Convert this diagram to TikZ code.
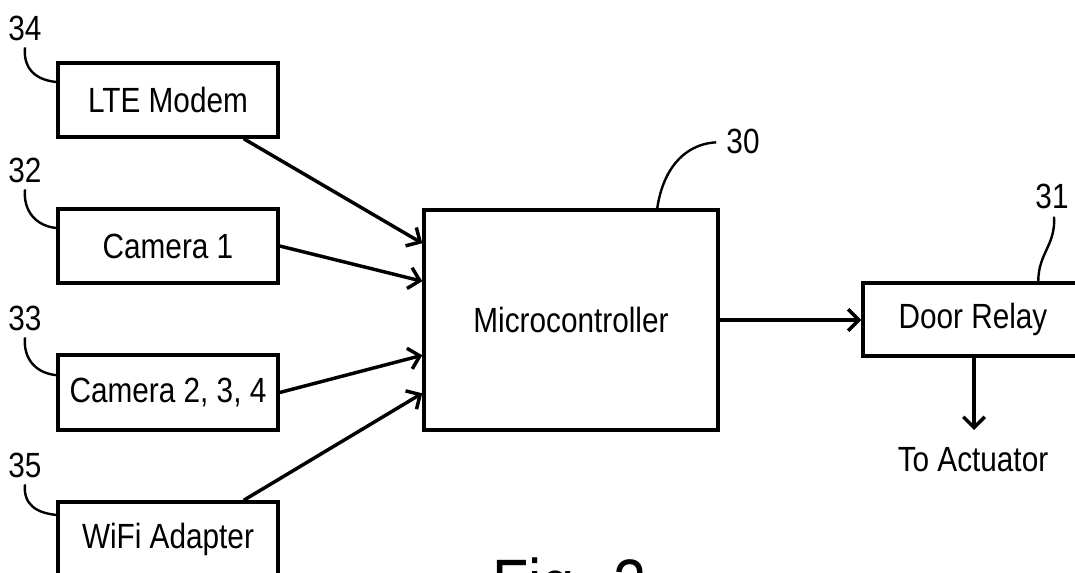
\documentclass[tikz,border=0pt]{standalone}
\usepackage{fontspec}
\setmainfont{Liberation Sans}[FakeStretch=0.85]
\usetikzlibrary{arrows.meta,calc}
\begin{document}
\begin{tikzpicture}[x=0.75pt,y=-0.75pt,
  blk/.style={draw,line width=2.6pt,rectangle,inner sep=0pt,
    font=\fontsize{26.25pt}{30pt}\selectfont},
  lbl/.style={inner sep=0pt,font=\fontsize{26.25pt}{30pt}\selectfont},
  arr/.style={line width=2.6pt,-{Straight Barb[length=8pt,width=16pt,line width=2.6pt]}},
  lead/.style={line width=1.8pt}]
\useasboundingbox (0,0) rectangle (1075,573);
\clip (0,0) rectangle (1075,573);
% blocks
\node[blk,minimum width=165pt,minimum height=55.5pt] (lte) at (168,100) {LTE Modem};
\node[blk,minimum width=165pt,minimum height=55.5pt] (cam1) at (168,246) {Camera 1};
\node[blk,minimum width=165pt,minimum height=56pt] (cam2) at (168,392.5) {Camera 2, 3, 4};
\node[blk,minimum width=165pt,minimum height=55.5pt] (wifi) at (168,539) {WiFi Adapter};
\node[blk,minimum width=220.5pt,minimum height=165pt] (mc) at (571,320) {Microcontroller};
\node[blk,minimum width=165pt,minimum height=54.75pt] (relay) at (973,319.5) {Door Relay};
\node[lbl] (act) at (973,460) {To Actuator};
\coordinate (actin) at (974,430);
\node[lbl,anchor=base west,font=\fontsize{52.5pt}{60pt}\selectfont] (fig) at (492,608) {Fig. 2};
% reference numerals
\node[lbl] (l34) at (25,28) {34};
\node[lbl] (l32) at (25,170) {32};
\node[lbl] (l33) at (25,318) {33};
\node[lbl] (l35) at (25,465) {35};
\node[lbl] (l30) at (743,141) {30};
\node[lbl] (l31) at (1052,196) {31};
% connectors
\draw[arr] ([xshift=-27pt]lte.south east) -- ([yshift=-26.25pt]mc.north west);
\draw[arr] (cam1.east) -- ([yshift=-54.75pt]mc.north west);
\draw[arr] (cam2.east) -- ([yshift=-110.25pt]mc.north west);
\draw[arr] ([xshift=-27pt]wifi.north east) -- ([yshift=-138.75pt]mc.north west);
\draw[arr] (mc.east) -- (mc.east -| relay.west);
\draw[arr] (relay.south -| actin) -- (actin);
% leaders
\draw[lead] ([yshift=-5pt]l34.south) .. controls +(-2,22) and +(-20,-2) .. ([yshift=13.5pt]lte.west);
\draw[lead] ([yshift=-5pt]l32.south) .. controls +(-2,22) and +(-20,-2) .. ([yshift=13.5pt]cam1.west);
\draw[lead] ([yshift=-5pt]l33.south) .. controls +(-2,22) and +(-20,-2) .. ([yshift=13pt]cam2.west);
\draw[lead] ([yshift=-5pt]l35.south) .. controls +(-2,20) and +(-20,-2) .. ([yshift=-11pt]wifi.north west);
\draw[lead] ([xshift=-7.5pt,yshift=-1pt]l30.west) .. controls +(-35,2) and +(5,-35) .. ([xshift=176.25pt]mc.north west);
\draw[lead] ([xshift=1.5pt,yshift=-6pt]l31.south) .. controls +(2,28) and +(0,-28) .. ([xshift=132.75pt]relay.north west);
\end{tikzpicture}
\end{document}
